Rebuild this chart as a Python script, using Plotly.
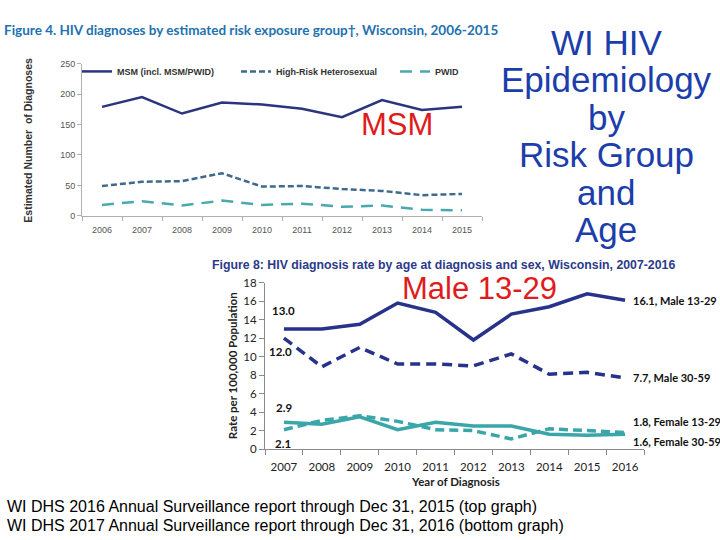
import plotly.graph_objects as go

W, H = 720, 540

# ---------- data: top chart (Figure 4) ----------
years_top = list(range(2006, 2016))
msm = [179, 195, 168, 186, 183, 176, 162, 190, 174, 179]
hetero = [49, 56, 57, 70, 48, 49, 44, 41, 34, 36]
pwid = [18, 24, 17, 25, 18, 20, 15, 17, 10, 9]
top_names = ["MSM (incl. MSM/PWID)", "High-Risk Heterosexual", "PWID"]
top_yticks = [0, 50, 100, 150, 200, 250]

# ---------- data: bottom chart (Figure 8) ----------
years_bot = list(range(2007, 2017))
male_13_29 = [13.0, 13.0, 13.5, 15.8, 14.8, 11.8, 14.6, 15.4, 16.8, 16.1]
male_30_59 = [12.0, 8.9, 11.0, 9.2, 9.2, 9.0, 10.3, 8.1, 8.3, 7.7]
female_13_29 = [2.1, 3.1, 3.6, 3.0, 2.1, 2.0, 1.1, 2.2, 2.0, 1.8]
female_30_59 = [2.9, 2.7, 3.5, 2.1, 2.9, 2.5, 2.5, 1.6, 1.5, 1.6]
bot_names = ["Male 13-29", "Male 30-59", "Female 13-29", "Female 30-59"]
bot_yticks = list(range(0, 19, 2))

title_lines = ["WI HIV", "Epidemiology", "by", "Risk Group", "and", "Age"]
footnotes = ["WI DHS 2016 Annual Surveillance report through Dec 31, 2015 (top graph)",
             "WI DHS 2017 Annual Surveillance report through Dec 31, 2016 (bottom graph)"]


def px_x(p):
    return p / W


def px_y(p):
    return 1 - p / H


NAVY = "#2b347f"
STEEL = "#3e6a8e"
TEAL_T = "#4aa9ae"
NAVY_B = "#27338a"
TEAL_B = "#3aa6a9"

fig = go.Figure()

# top chart traces
fig.add_trace(go.Scatter(x=years_top, y=msm, mode="lines", name=top_names[0],
                         line=dict(color=NAVY, width=2.5), xaxis="x", yaxis="y"))
fig.add_trace(go.Scatter(x=years_top, y=hetero, mode="lines", name=top_names[1],
                         line=dict(color=STEEL, width=2.5, dash="6px,3px"), xaxis="x", yaxis="y"))
fig.add_trace(go.Scatter(x=years_top, y=pwid, mode="lines", name=top_names[2], legend="legend2",
                         line=dict(color=TEAL_T, width=2.5, dash="12px,8px"), xaxis="x", yaxis="y"))

# bottom chart traces
fig.add_trace(go.Scatter(x=years_bot, y=male_13_29, mode="lines", name=bot_names[0], showlegend=False,
                         line=dict(color=NAVY_B, width=3.5), xaxis="x2", yaxis="y2"))
fig.add_trace(go.Scatter(x=years_bot, y=male_30_59, mode="lines", name=bot_names[1], showlegend=False,
                         line=dict(color=NAVY_B, width=3.5, dash="10px,6px"), xaxis="x2", yaxis="y2"))
fig.add_trace(go.Scatter(x=years_bot, y=female_13_29, mode="lines", name=bot_names[2], showlegend=False,
                         line=dict(color=TEAL_B, width=3.5, dash="9px,5px"), xaxis="x2", yaxis="y2"))
fig.add_trace(go.Scatter(x=years_bot, y=female_30_59, mode="lines", name=bot_names[3], showlegend=False,
                         line=dict(color=TEAL_B, width=3.5), xaxis="x2", yaxis="y2"))


def pann(text, x, y, size, color, family="Liberation Sans", xanchor="center", angle=0):
    return dict(text=text, x=px_x(x), y=px_y(y), xref="paper", yref="paper",
                xanchor=xanchor, yanchor="middle", textangle=angle, showarrow=False,
                font=dict(family=family, size=size, color=color))


ann = []
# figure titles
ann.append(pann("<b>Figure 4. HIV diagnoses by estimated risk exposure group†, Wisconsin, 2006-2015</b>",
                2, 24, 13.5, "#2271b1", family="Lato", xanchor="left"))
ann.append(pann("<b>Figure 8: HIV diagnosis rate by age at diagnosis and sex, Wisconsin, 2007-2016</b>",
                210, 264, 12.3, "#2c3a8a", xanchor="left"))
# axis titles
ann.append(pann("<b>Estimated Number  of Diagnoses</b>", 28, 137, 10.5, "#333333", angle=-90))
ann.append(pann("<b>Rate per 100,000 Population</b>", 232, 368, 11.5, "#222222", family="Lato", angle=-90))
ann.append(pann("<b>Year of Diagnosis</b>", 455, 486, 11.5, "#222222", family="Lato"))

# red overlay labels
ann.append(pann("MSM", 397, 120, 31, "#e01b1b"))
ann.append(pann("Male 13-29", 479, 288, 31, "#e01b1b"))

# big title
for i, line in enumerate(title_lines):
    ann.append(pann(line, 606, 36 + i * 38.4, 35, "#1c3eab"))

# footnotes
for i, line in enumerate(footnotes):
    ann.append(pann(line, 5, 512 + i * 19, 16, "#000000", xanchor="left"))

# data labels on bottom chart
lab_font = dict(family="Lato", size=11.5, color="#111111")
ann.append(dict(text="<b>%.1f</b>" % male_13_29[0], x=years_bot[0], y=male_13_29[0], xref="x2", yref="y2",
                showarrow=False, yshift=18, xshift=0, font=lab_font))
ann.append(dict(text="<b>%.1f</b>" % male_30_59[0], x=years_bot[0], y=male_30_59[0], xref="x2", yref="y2",
                showarrow=False, yshift=-13, xshift=-3, font=lab_font))
ann.append(dict(text="<b>%.1f</b>" % female_30_59[0], x=years_bot[0], y=female_30_59[0], xref="x2", yref="y2",
                showarrow=False, yshift=15, xshift=0, font=lab_font))
ann.append(dict(text="<b>%.1f</b>" % female_13_29[0], x=years_bot[0], y=female_13_29[0], xref="x2", yref="y2",
                showarrow=False, yshift=-14, xshift=-1, font=lab_font))
ends = [(male_13_29, bot_names[0], 0), (male_30_59, bot_names[1], 0),
        (female_13_29, bot_names[2], 11), (female_30_59, bot_names[3], -7)]
for vals, nm, ys in ends:
    ann.append(dict(text="<b>%.1f, %s</b>" % (vals[-1], nm), x=years_bot[-1], y=vals[-1], xref="x2", yref="y2",
                    xanchor="left", showarrow=False, xshift=6, yshift=ys,
                    font=dict(family="Lato", size=11, color="#111111")))

leg_font = dict(family="Liberation Sans", size=9, color="#333333", weight="bold")
fig.update_layout(
    width=W, height=H, margin=dict(l=0, r=0, t=0, b=0),
    paper_bgcolor="white", plot_bgcolor="rgba(0,0,0,0)",
    annotations=ann,
    showlegend=True,
    legend=dict(orientation="h", x=px_x(77), y=px_y(66), xanchor="left", yanchor="middle",
                font=leg_font, bgcolor="rgba(0,0,0,0)", itemwidth=30,
                entrywidth=114, entrywidthmode="pixels"),
    legend2=dict(orientation="h", x=px_x(395), y=px_y(66), xanchor="left", yanchor="middle",
                 font=leg_font, bgcolor="rgba(0,0,0,0)", itemwidth=30),
    xaxis=dict(domain=[px_x(82), px_x(482)], range=[2005.5, 2015.5], anchor="y",
               tickmode="array", tickvals=years_top, ticktext=[str(v) for v in years_top],
               ticks="", showgrid=False, zeroline=False, showline=True, linecolor="#b0b0b0", linewidth=1,
               ticklabelstandoff=5,
               tickfont=dict(family="Liberation Sans", size=9, color="#555555"),
               minor=dict(tickmode="linear", tick0=2005.5, dtick=1, ticks="outside", ticklen=4,
                          tickcolor="#b0b0b0", showgrid=False)),
    yaxis=dict(domain=[px_y(214), px_y(58)], range=[0, 250], anchor="x",
               tickmode="array", tickvals=top_yticks, ticks="outside", ticklen=4, tickcolor="#b0b0b0",
               showgrid=False, zeroline=False, showline=True, linecolor="#b0b0b0", linewidth=1,
               tickfont=dict(family="Liberation Sans", size=9, color="#555555")),
    xaxis2=dict(domain=[px_x(265), px_x(644)], range=[2006.5, 2016.5], anchor="y2",
                tickmode="array", tickvals=years_bot, ticktext=[str(v) for v in years_bot],
                ticks="", showgrid=False, zeroline=False, showline=True, linecolor="#8a8a8a", linewidth=1,
                ticklabelstandoff=7,
                tickfont=dict(family="Lato", size=11.5, color="#222222"),
                minor=dict(tickmode="linear", tick0=2006.5, dtick=1, ticks="outside", ticklen=5,
                           tickcolor="#8a8a8a", showgrid=False)),
    yaxis2=dict(domain=[px_y(453), px_y(282.5)], range=[0, 18], anchor="x2",
                tickmode="array", tickvals=bot_yticks, ticks="outside", ticklen=5, tickcolor="#8a8a8a",
                showgrid=False, zeroline=False, showline=True, linecolor="#8a8a8a", linewidth=1,
                tickfont=dict(family="Lato", size=11.5, color="#222222")),
)

fig.write_html("out.html")
